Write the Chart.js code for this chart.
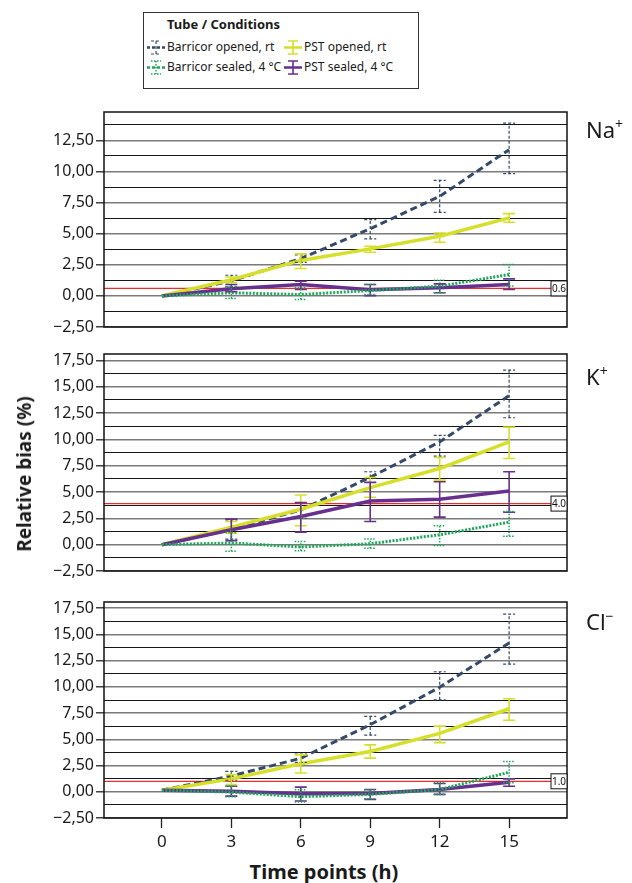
<!DOCTYPE html>
<html>
<head>
<meta charset="utf-8">
<script src="https://cdn.jsdelivr.net/npm/chart.js@4/dist/chart.umd.min.js"></script>
<style>
  body { margin: 0; background: #fff; font-family: "Noto Sans", sans-serif; color: #1a1a1a; }
  #fig { position: relative; width: 632px; height: 883px; overflow: hidden; }
  .panel { position: absolute; left: 0; width: 632px; }
  .ion { position: absolute; left: 586px; font-size: 22px; line-height: 22px; }
  .ion sup { font-size: 14px; vertical-align: 9px; line-height: 0; }
  #ytitle { position: absolute; left: 24px; top: 474px; transform: translate(-50%, -50%) rotate(-90deg);
            font-weight: bold; font-size: 19px; white-space: nowrap; }
  #xtitle { position: absolute; left: 324px; top: 862px; transform: translateX(-50%);
            font-weight: bold; font-size: 20px; line-height: 20px; white-space: nowrap; }
  #legend { position: absolute; left: 143px; top: 12px; width: 274px; height: 75px;
            border: 1.5px solid #333; }
  #legend .ttl { position: absolute; left: 23px; top: 3px; font-weight: bold; font-size: 13px; line-height: 16px; }
  #legend .item { position: absolute; font-size: 12px; line-height: 16px; white-space: nowrap; }
  #legend canvas { position: absolute; }
</style>
</head>
<body>
<div id="fig">
  <div id="legend"><div class="ttl">Tube / Conditions</div></div>
  <div class="panel" style="top:100px;height:240px"><canvas id="naChart"></canvas></div>
  <div class="panel" style="top:342px;height:242px"><canvas id="kChart"></canvas></div>
  <div class="panel" style="top:590px;height:264px"><canvas id="clChart"></canvas></div>
  <div class="ion" style="top:118px">Na<sup>+</sup></div>
  <div class="ion" style="top:365px">K<sup>+</sup></div>
  <div class="ion" style="top:610px">Cl<sup>−</sup></div>
  <div id="ytitle">Relative bias (%)</div>
  <div id="xtitle">Time points (h)</div>
</div>
<script>
// ---- data ----
const timePoints = [0, 3, 6, 9, 12, 15];
const seriesNames = ['Barricor opened, rt', 'Barricor sealed, 4 °C', 'PST opened, rt', 'PST sealed, 4 °C'];

// Na+
const naBarOpen     = [0, 1.20, 3.00, 5.40, 8.00, 11.75];
const naBarOpenLo   = [null, 0.73, 2.70, 4.58, 6.72, 9.82];
const naBarOpenHi   = [null, 1.66, 3.30, 6.13, 9.29, 13.89];
const naBarSealed   = [0, 0.25, 0.11, 0.43, 0.78, 1.72];
const naBarSealedLo = [null, -0.21, -0.29, 0.11, 0.25, 0.80];
const naBarSealedHi = [null, 0.75, 0.65, 0.91, 1.26, 2.52];
const naPstOpen     = [0, 1.30, 2.85, 3.78, 4.79, 6.27];
const naPstOpenLo   = [null, 1.08, 2.20, 3.51, 4.31, 5.92];
const naPstOpenHi   = [null, 1.52, 3.38, 3.99, 5.06, 6.61];
const naPstSealed   = [0, 0.57, 0.92, 0.49, 0.65, 0.92];
const naPstSealedLo = [null, 0.33, 0.51, 0.02, 0.25, 0.51];
const naPstSealedHi = [null, 0.91, 1.18, 0.91, 0.97, 1.37];

// K+
const kBarOpen     = [0, 1.45, 3.30, 6.40, 9.75, 14.15];
const kBarOpenLo   = [null, 0.53, 2.50, 5.90, 8.40, 12.05];
const kBarOpenHi   = [null, 2.36, 4.00, 6.92, 10.38, 16.57];
const kBarSealed   = [0, 0.16, -0.22, 0.09, 0.94, 2.14];
const kBarSealedLo = [null, -0.63, -0.57, -0.35, -0.09, 0.79];
const kBarSealedHi = [null, 1.16, 0.31, 0.53, 1.79, 3.14];
const kPstOpen     = [0, 1.67, 3.36, 5.42, 7.23, 9.75];
const kPstOpenLo   = [null, 1.10, 1.79, 4.50, 6.13, 8.18];
const kPstOpenHi   = [null, 2.20, 4.72, 6.38, 8.27, 11.16];
const kPstSealed   = [0, 1.42, 2.67, 4.15, 4.31, 5.09];
const kPstSealedLo = [null, 0.38, 1.19, 2.20, 2.61, 3.08];
const kPstSealedHi = [null, 2.42, 3.99, 5.91, 5.97, 6.92];

// Cl-
const clBarOpen     = [0.15, 1.50, 3.20, 6.40, 9.97, 14.20];
const clBarOpenLo   = [null, 1.10, 2.80, 5.41, 8.77, 12.17];
const clBarOpenHi   = [null, 1.95, 3.60, 7.20, 11.45, 16.95];
const clBarSealed   = [0.15, -0.03, -0.47, -0.25, 0.22, 1.86];
const clBarSealedLo = [null, -0.47, -0.97, -0.66, -0.25, 0.85];
const clBarSealedHi = [null, 0.53, 0.20, 0.16, 0.85, 2.89];
const clPstOpen     = [0.15, 1.23, 2.67, 3.84, 5.57, 7.92];
const clPstOpenLo   = [null, 0.69, 1.79, 3.21, 4.69, 6.82];
const clPstOpenHi   = [null, 1.64, 3.52, 4.47, 6.26, 8.87];
const clPstSealed   = [0.15, 0.06, -0.19, -0.16, 0.22, 0.91];
const clPstSealedLo = [null, -0.41, -0.88, -0.72, -0.25, 0.53];
const clPstSealedHi = [null, 0.53, 0.44, 0.22, 0.79, 1.23];

// reference limits (red line) and their labels
const refValues = [0.6, 3.9, 1.0];
const refLabels = ['0.6', '4.0', '1.0'];

// y grid / tick values
const naTicks = [-2.5, -1.25, 0, 1.25, 2.5, 3.75, 5, 6.25, 7.5, 8.75, 10, 11.25, 12.5, 13.75];
const kTicks  = [-2.5, -1.25, 0, 1.25, 2.5, 3.75, 5, 6.25, 7.5, 8.75, 10, 11.25, 12.5, 13.75, 15, 16.25, 17.5];
const clTicks = kTicks;
const yRanges = [[-2.5, 14.78], [-2.5, 18.1], [-2.5, 18.1]];
const xRange = [-2.5, 17.5];

// ---- styles ----
const seriesStyles = [
  { color: '#344a68', width: 3, dash: [7, 4], errWidth: 1.2, errDash: [3, 2], order: 3 },
  { color: '#1ea85a', width: 3, dash: [2, 1.5], errWidth: 1.5, errDash: [1.5, 1.5], order: 0 },
  { color: '#d6df2a', width: 3.5, dash: [], errWidth: 1.6, errDash: [], order: 2 },
  { color: '#67308f', width: 3.5, dash: [], errWidth: 1.6, errDash: [], order: 1 }
];

const isMajor = v => Math.abs(v / 2.5 - Math.round(v / 2.5)) < 1e-6;
const fmt = v => (v < 0 ? '\u2212' : '') + Math.abs(v).toFixed(2).replace('.', ',');

const errorBars = {
  id: 'errorBars',
  afterDatasetsDraw(chart) {
    const { ctx, chartArea: a, scales: { x, y } } = chart;
    ctx.save();
    ctx.beginPath();
    ctx.rect(a.left, a.top, a.width, a.height);
    ctx.clip();
    chart.data.datasets.slice().sort((p, q) => q.order - p.order).forEach(ds => {
      ctx.strokeStyle = ds.borderColor;
      ctx.lineWidth = ds.errWidth;
      ctx.setLineDash(ds.errDash);
      ds.errLo.forEach((lo, j) => {
        const hi = ds.errHi[j];
        if (lo == null) return;
        const px = x.getPixelForValue(timePoints[j]);
        const y1 = y.getPixelForValue(lo), y2 = y.getPixelForValue(hi);
        ctx.beginPath();
        ctx.moveTo(px, y1); ctx.lineTo(px, y2);
        ctx.moveTo(px - 6, y1); ctx.lineTo(px + 6, y1);
        ctx.moveTo(px - 6, y2); ctx.lineTo(px + 6, y2);
        ctx.stroke();
      });
    });
    ctx.restore();
  }
};

const refLine = {
  id: 'refLine',
  beforeDatasetsDraw(chart, args, opts) {
    const { ctx, chartArea: a, scales: { y } } = chart;
    const py = y.getPixelForValue(opts.value);
    ctx.save();
    ctx.strokeStyle = '#ee2a2a';
    ctx.lineWidth = 1.3;
    ctx.beginPath();
    ctx.moveTo(a.left, py); ctx.lineTo(a.right, py);
    ctx.stroke();
    ctx.restore();
  },
  afterDraw(chart, args, opts) {
    const { ctx, chartArea: a, scales: { y } } = chart;
    const py = y.getPixelForValue(opts.value);
    // frame around plot area
    ctx.save();
    ctx.strokeStyle = '#111';
    ctx.lineWidth = 1.5;
    ctx.strokeRect(a.left, a.top, a.width, a.height);
    // value box at the right
    ctx.fillStyle = '#fff';
    ctx.lineWidth = 1;
    ctx.fillRect(a.right - 16, py - 7.5, 16, 15);
    ctx.strokeRect(a.right - 16, py - 7.5, 16, 15);
    ctx.fillStyle = '#111';
    ctx.font = '10px "Noto Sans"';
    ctx.textAlign = 'center';
    ctx.textBaseline = 'middle';
    ctx.fillText(opts.label, a.right - 8, py + 0.5);
    ctx.restore();
  }
};

function makePanel(id, means, los, his, ticks, range, refIdx, showX, pad) {
  return new Chart(document.getElementById(id), {
    type: 'line',
    data: {
      datasets: seriesStyles.map((s, i) => ({
        label: seriesNames[i],
        data: timePoints.map((t, j) => ({ x: t, y: means[i][j] })),
        borderColor: s.color,
        borderWidth: s.width,
        borderDash: s.dash,
        pointRadius: 0,
        tension: 0,
        fill: false,
        order: s.order,
        errLo: los[i],
        errHi: his[i],
        errWidth: s.errWidth,
        errDash: s.errDash
      }))
    },
    options: {
      responsive: true,
      maintainAspectRatio: false,
      animation: false,
      layout: { padding: pad },
      plugins: {
        legend: { display: false },
        tooltip: { enabled: false },
        refLine: { value: refValues[refIdx], label: refLabels[refIdx] }
      },
      scales: {
        x: {
          type: 'linear',
          min: xRange[0], max: xRange[1],
          display: showX,
          afterBuildTicks: s => { s.ticks = timePoints.map(v => ({ value: v })); },
          afterFit: s => { if (showX) s.height = 36; },
          border: { display: false },
          grid: { drawOnChartArea: false, tickLength: 10, tickColor: '#222', tickWidth: 1.3 },
          ticks: { color: '#1a1a1a', font: { family: 'Noto Sans', size: 17 }, padding: 4, maxRotation: 0 }
        },
        y: {
          min: range[0], max: range[1],
          afterBuildTicks: s => { s.ticks = ticks.map(v => ({ value: v })); },
          afterFit: s => { s.width = 104; },
          border: { display: false },
          grid: {
            color: c => isMajor(c.tick.value) ? '#7a7a7a' : '#151515',
            lineWidth: c => isMajor(c.tick.value) ? 1.6 : 1,
            tickLength: 8,
            tickWidth: 1.3,
            tickColor: c => isMajor(c.tick.value) ? '#222' : 'rgba(0,0,0,0)'
          },
          ticks: {
            color: '#1a1a1a',
            font: { family: 'Noto Sans', size: 16 },
            padding: 2,
            autoSkip: false,
            callback: v => isMajor(v) ? fmt(v) : ''
          }
        }
      }
    },
    plugins: [errorBars, refLine]
  });
}

makePanel('naChart',
  [naBarOpen, naBarSealed, naPstOpen, naPstSealed],
  [naBarOpenLo, naBarSealedLo, naPstOpenLo, naPstSealedLo],
  [naBarOpenHi, naBarSealedHi, naPstOpenHi, naPstSealedHi],
  naTicks, yRanges[0], 0, false, { top: 12, bottom: 13, left: 0, right: 65 });

makePanel('kChart',
  [kBarOpen, kBarSealed, kPstOpen, kPstSealed],
  [kBarOpenLo, kBarSealedLo, kPstOpenLo, kPstSealedLo],
  [kBarOpenHi, kBarSealedHi, kPstOpenHi, kPstSealedHi],
  kTicks, yRanges[1], 1, false, { top: 12, bottom: 13, left: 0, right: 65 });

makePanel('clChart',
  [clBarOpen, clBarSealed, clPstOpen, clPstSealed],
  [clBarOpenLo, clBarSealedLo, clPstOpenLo, clPstSealedLo],
  [clBarOpenHi, clBarSealedHi, clPstOpenHi, clPstSealedHi],
  clTicks, yRanges[2], 2, true, { top: 12, bottom: 0, left: 0, right: 65 });

// ---- legend (HTML text + small drawn markers) ----
const legend = document.getElementById('legend');
const legendSlots = [
  { left: 2, top: 26, textLeft: 23 },
  { left: 2, top: 46, textLeft: 23 },
  { left: 139, top: 26, textLeft: 160 },
  { left: 139, top: 46, textLeft: 160 }
];
seriesStyles.forEach((s, i) => {
  const slot = legendSlots[i];
  const cv = document.createElement('canvas');
  cv.width = 20; cv.height = 16;
  cv.style.left = slot.left + 'px';
  cv.style.top = slot.top + 'px';
  const g = cv.getContext('2d');
  g.strokeStyle = s.color;
  g.lineWidth = Math.min(s.width, 2.5);
  g.setLineDash(s.dash.length ? [3, 2] : []);
  g.beginPath(); g.moveTo(1, 8.5); g.lineTo(19, 8.5); g.stroke();
  g.lineWidth = s.errWidth;
  g.setLineDash(s.errDash);
  g.beginPath();
  g.moveTo(10, 2); g.lineTo(10, 15);
  g.moveTo(5, 2); g.lineTo(15, 2);
  g.moveTo(5, 15); g.lineTo(15, 15);
  g.stroke();
  legend.appendChild(cv);
  const t = document.createElement('div');
  t.className = 'item';
  t.style.left = slot.textLeft + 'px';
  t.style.top = slot.top + 'px';
  t.textContent = seriesNames[i];
  legend.appendChild(t);
});
</script>
</body>
</html>
